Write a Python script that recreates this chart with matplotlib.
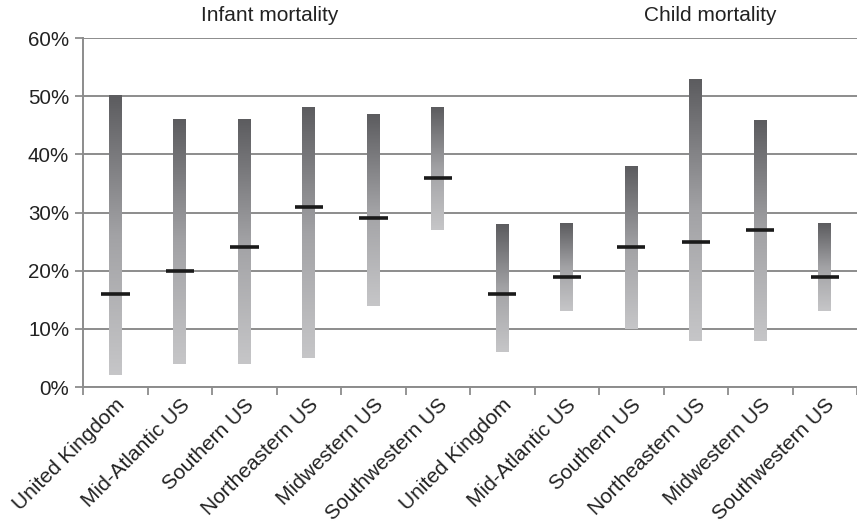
import matplotlib.pyplot as plt
import numpy as np
from matplotlib.colors import LinearSegmentedColormap

plt.rcParams['font.family'] = ['Liberation Sans', 'DejaVu Sans']

regions = ['United Kingdom', 'Mid-Atlantic US', 'Southern US', 'Northeastern US',
           'Midwestern US', 'Southwestern US']
labels = regions + regions
low = [2, 4, 4, 5, 14, 27, 6, 13, 10, 8, 8, 13]
high = [50, 46, 46, 48, 47, 48, 28, 28, 38, 53, 46, 28]
mid = [16, 20, 24, 31, 29, 36, 16, 19, 24, 25, 27, 19]
groups = ['Infant mortality', 'Child mortality']

fig = plt.figure(figsize=(8.57, 5.23), dpi=100)
ax = fig.add_axes([0.097, 0.26, 0.903, 0.667])

grad = LinearSegmentedColormap.from_list('g', ['#c6c6c8', '#a2a2a5', '#5c5c5f'])
col = np.linspace(0, 1, 256).reshape(-1, 1)
bw = 0.2
for i in range(len(labels)):
    ax.imshow(col, cmap=grad, origin='lower', aspect='auto', interpolation='bilinear',
              extent=[i - bw / 2, i + bw / 2, low[i], high[i]], zorder=3)
    ax.plot([i - 0.22, i + 0.22], [mid[i], mid[i]], color='#1a1a1a', lw=2.6,
            solid_capstyle='butt', zorder=4)

ax.set_xlim(-0.5, len(labels) - 0.5)
ax.set_ylim(0, 60)
ax.set_yticks(range(0, 61, 10))
ax.set_yticklabels(['%d%%' % v for v in range(0, 61, 10)], fontsize=14.8, color='#222222')
ax.yaxis.grid(True, color='#8c8c8c', lw=1.4, zorder=1)
ax.set_axisbelow(True)

ax.set_xticks(np.arange(-0.5, len(labels), 1))
ax.set_xticklabels([])
ax.set_xticks(range(len(labels)), minor=True)
ax.set_xticklabels(labels, minor=True, rotation=45, ha='right', rotation_mode='anchor',
                   fontsize=15, color='#222222')
ax.tick_params(axis='x', which='minor', length=0, pad=6)
ax.tick_params(axis='x', which='major', length=6, width=1.3, color='#8c8c8c')
ax.tick_params(axis='y', length=6, width=1.3, color='#8c8c8c', pad=4)

for s in ['top', 'right']:
    ax.spines[s].set_visible(False)
for s in ['left', 'bottom']:
    ax.spines[s].set_color('#8c8c8c')
    ax.spines[s].set_linewidth(1.4)

ax.text(2.4, 62.3, groups[0], ha='center', va='bottom', fontsize=15, color='#222222')
ax.text(9.22, 62.3, groups[1], ha='center', va='bottom', fontsize=15, color='#222222')

fig.savefig('out.png', dpi=100)
